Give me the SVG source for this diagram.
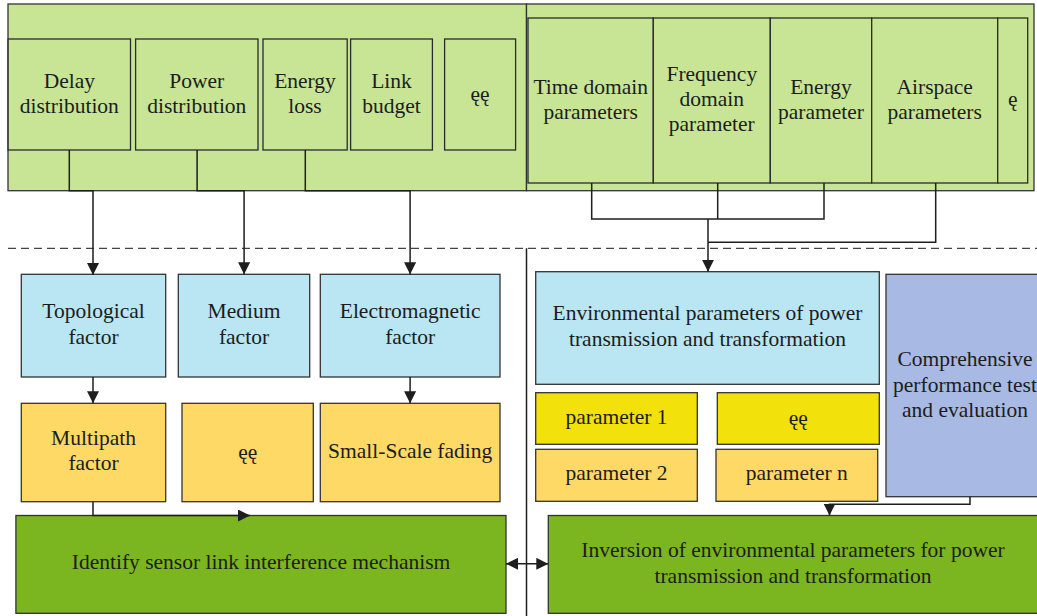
<svg xmlns="http://www.w3.org/2000/svg" width="1037" height="616" viewBox="0 0 1037 616">
<defs>
<style>
text{font-family:"Liberation Serif","Times New Roman",serif;font-size:21.5px;fill:#1c1c1c;text-anchor:middle}
.panel{fill:#c8e596;stroke:#333;stroke-width:1.3}
.inner{fill:#c8e596;stroke:#2a2a2a;stroke-width:1.3}
.blue{fill:#b9e6f2;stroke:#333;stroke-width:1.3}
.orange{fill:#fed966;stroke:#333;stroke-width:1.3}
.yellow{fill:#f3e10b;stroke:#333;stroke-width:1.3}
.lav{fill:#a8b9e3;stroke:#333;stroke-width:1.3}
.green{fill:#7bb51f;stroke:#333;stroke-width:1.3}
.conn{fill:none;stroke:#1e1e1e;stroke-width:1.5}
.arr{fill:none;stroke:#1e1e1e;stroke-width:1.5;marker-end:url(#ah)}
.dash{fill:none;stroke:#444;stroke-width:1.3;stroke-dasharray:8 5}
</style>
<marker id="ah" markerUnits="userSpaceOnUse" markerWidth="12" markerHeight="12" viewBox="0 0 12 12" refX="12" refY="6" orient="auto-start-reverse">
<path d="M0,0 L12,6 L0,12 z" fill="#1e1e1e"/>
</marker>
</defs>

<g id="panel-left">
<rect class="panel" x="8" y="4" width="518.5" height="186.7"/>
</g>
<g id="panel-right">
<rect class="panel" x="526.5" y="4" width="507.5" height="186.7"/>
</g>

<g id="delay"><rect class="inner" x="8.1" y="39" width="122.4" height="111"/><text x="69.3" y="88">Delay</text><text x="69.3" y="113">distribution</text></g>
<g id="power"><rect class="inner" x="135.6" y="39" width="122.4" height="111"/><text x="196.8" y="88">Power</text><text x="196.8" y="113">distribution</text></g>
<g id="energy-loss"><rect class="inner" x="263" y="39" width="84.2" height="111"/><text x="305" y="88">Energy</text><text x="305" y="113">loss</text></g>
<g id="link-budget"><rect class="inner" x="350.6" y="39" width="81.8" height="111"/><text x="391.5" y="88">Link</text><text x="391.5" y="113">budget</text></g>
<g id="etc-left"><rect class="inner" x="444.6" y="39" width="71" height="111"/><text x="480" y="101">ęę</text></g>

<g id="time-domain"><rect class="inner" x="528" y="18" width="125.3" height="165"/><text x="590.7" y="93.5">Time domain</text><text x="590.7" y="118.5">parameters</text></g>
<g id="frequency-domain"><rect class="inner" x="653.3" y="18" width="117" height="165"/><text x="711.8" y="80.5">Frequency</text><text x="711.8" y="105.5">domain</text><text x="711.8" y="130.5">parameter</text></g>
<g id="energy-parameter"><rect class="inner" x="770.3" y="18" width="101.4" height="165"/><text x="821" y="93.5">Energy</text><text x="821" y="118.5">parameter</text></g>
<g id="airspace"><rect class="inner" x="871.7" y="18" width="126" height="165"/><text x="934.7" y="93.5">Airspace</text><text x="934.7" y="118.5">parameters</text></g>
<g id="etc-right"><rect class="inner" x="997.7" y="18" width="30" height="165"/><text x="1012.7" y="106">ę</text></g>

<g id="topological"><rect class="blue" x="21.3" y="274.3" width="144.4" height="102.7"/><text x="93.5" y="318">Topological</text><text x="93.5" y="344">factor</text></g>
<g id="medium"><rect class="blue" x="178.3" y="274.3" width="131.4" height="102.7"/><text x="244" y="318">Medium</text><text x="244" y="344">factor</text></g>
<g id="electromagnetic"><rect class="blue" x="320.3" y="274.3" width="179.7" height="102.7"/><text x="410.2" y="318">Electromagnetic</text><text x="410.2" y="344">factor</text></g>

<g id="multipath"><rect class="orange" x="21.3" y="403.3" width="144.4" height="98.4"/><text x="93.5" y="445">Multipath</text><text x="93.5" y="470">factor</text></g>
<g id="etc-mid"><rect class="orange" x="182" y="403.3" width="131.3" height="98.4"/><text x="247.7" y="459">ęę</text></g>
<g id="small-scale"><rect class="orange" x="320.3" y="403.3" width="179.7" height="98.4"/><text x="410.2" y="457.5">Small-Scale fading</text></g>

<g id="env-params"><rect class="blue" x="535.7" y="271.7" width="343.6" height="112.6"/><text x="707.5" y="320">Environmental parameters of power</text><text x="707.5" y="346">transmission and transformation</text></g>
<g id="param1"><rect class="yellow" x="535.7" y="392.7" width="161.6" height="51.6"/><text x="616.5" y="424">parameter 1</text></g>
<g id="param-etc"><rect class="yellow" x="717.3" y="392.7" width="162" height="51.6"/><text x="798.3" y="425">ęę</text></g>
<g id="param2"><rect class="orange" x="535.7" y="449.3" width="161.6" height="52"/><text x="616.5" y="480">parameter 2</text></g>
<g id="paramn"><rect class="orange" x="716" y="449.3" width="161.7" height="52"/><text x="796.8" y="480">parameter n</text></g>
<g id="comprehensive"><rect class="lav" x="886" y="274.3" width="160" height="222.4"/><text x="965" y="366">Comprehensive</text><text x="965" y="391.5">performance test</text><text x="965" y="417">and evaluation</text></g>

<g id="identify"><rect class="green" x="15.9" y="515.5" width="490.1" height="97.8"/><text x="261" y="569">Identify sensor link interference mechanism</text></g>
<g id="inversion"><rect class="green" x="548.3" y="515.5" width="497" height="97.8"/><text x="793" y="557">Inversion of environmental parameters for power</text><text x="793" y="582.5">transmission and transformation</text></g>

<g id="connectors">
<path class="dash" d="M8,248.3 H1037"/>
<path class="conn" d="M526.5,248.3 V616" stroke-width="1.3"/>
<path class="arr" d="M69.3,150 V190.7 H93 V275"/>
<path class="arr" d="M197.1,150 V190.7 H244.1 V274.3"/>
<path class="arr" d="M305.3,150 V190.7 H410.1 V274.3"/>
<path class="conn" d="M591.7,183 V219 H824 V183"/>
<path class="conn" d="M717.7,183 V219"/>
<path class="conn" d="M935.7,183 V242.3 H708"/>
<path class="arr" d="M708,219 V271.7"/>
<path class="arr" d="M93,377 V403.3"/>
<path class="arr" d="M410.1,377 V403.3"/>
<path class="arr" d="M93,501.7 V515.5 H250"/>
<path class="arr" d="M970,496.7 V504.3 H829.5 V515.5"/>
<path class="arr" d="M506,563.8 H548.3" style="marker-start:url(#ah)"/>
</g>
</svg>
